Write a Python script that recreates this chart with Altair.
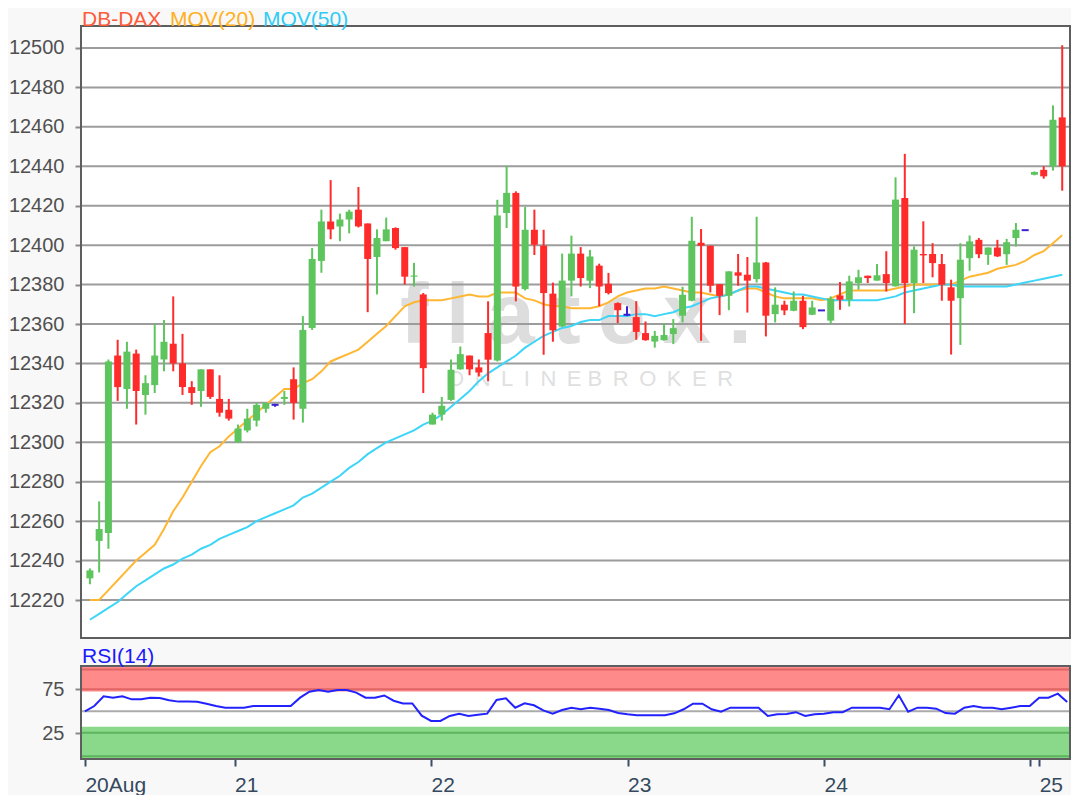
import altair as alt
import pandas as pd

# ---------------- data ----------------
idx = list(range(106))

opens = [12231, 12250, 12254, 12344, 12327, 12345, 12324, 12329, 12342, 12350,
         12340, 12328, 12326, 12337, 12322, 12316.5, 12300, 12306, 12311, 12317,
         12319, 12322, 12332, 12317, 12358, 12392, 12412, 12409.5, 12413, 12418,
         12411, 12394, 12402, 12408.7, 12399, 12384, 12375, 12309, 12314, 12321.5,
         12337, 12344, 12338, 12355.4, 12341.5, 12416.3, 12426.5, 12377.7, 12407.8, 12399.7,
         12375.4, 12358.8, 12382, 12395.7, 12382, 12389.6, 12380.4, 12370.6, 12364.7, 12363.5,
         12355.4, 12351.1, 12351.8, 12354.9, 12364.2, 12371.8, 12401.2, 12399.7, 12380.2, 12374.3,
         12386.2, 12385, 12382.8, 12391.2, 12365, 12369.8, 12366.7, 12371.8, 12364.7, 12366.9,
         12361.7, 12374.5, 12372.3, 12380.8, 12384.5, 12382, 12385.3, 12379.1, 12423.9, 12380.8,
         12395.5, 12395.5, 12390.4, 12378.6, 12373.1, 12393.4, 12402.7, 12395.1, 12398.8, 12395.4,
         12403.6, 12407.6, 12435.7, 12438.2, 12440, 12464.8]

highs = [12236, 12270, 12342, 12352, 12351, 12347, 12334, 12360, 12362, 12374,
         12355, 12331, 12337, 12337, 12334, 12322, 12309, 12317, 12320, 12320,
         12319.5, 12326, 12338, 12364, 12398.5, 12418, 12433, 12416, 12418, 12429.5,
         12411, 12408, 12414, 12409, 12399, 12391, 12375.7, 12315, 12323, 12342,
         12348.6, 12344, 12342, 12371.5, 12423, 12440.3, 12427.3, 12419.4, 12418, 12407.8,
         12381, 12395.7, 12404.8, 12399, 12397.6, 12390.6, 12385.9, 12371, 12369, 12371.6,
         12361.3, 12356.5, 12360.3, 12362.5, 12378.9, 12414.4, 12408.2, 12399.7, 12380.2, 12386.7,
         12395.5, 12394, 12414.4, 12391.5, 12378.6, 12371.8, 12376.5, 12374.3, 12371.8, 12366.9,
         12374, 12381.3, 12384.5, 12387.5, 12384.5, 12390.4, 12396.9, 12434.4, 12446.3, 12399.4,
         12412.1, 12401, 12395.5, 12382.5, 12401, 12404.9, 12403.6, 12398.8, 12402.7, 12403.2,
         12411.2, 12407.6, 12437.4, 12440, 12470.9, 12501.4]

lows = [12228, 12234, 12246, 12321, 12317, 12309, 12314, 12325, 12336, 12336,
        12324, 12319, 12318, 12322, 12313, 12311, 12300, 12305, 12308, 12315,
        12318, 12319, 12311.5, 12310, 12357, 12386, 12403, 12402, 12406, 12409,
        12366, 12375, 12402, 12397.7, 12380, 12379, 12325, 12309, 12311, 12321,
        12336.8, 12334, 12333.4, 12331, 12341, 12408.7, 12371.5, 12377, 12395, 12344.4,
        12351, 12358.5, 12374, 12379, 12378.2, 12369, 12375, 12360.5, 12364, 12352,
        12351.5, 12348, 12351.5, 12349.8, 12360.8, 12371.5, 12351.5, 12376, 12364.5, 12367,
        12379.4, 12365.8, 12381, 12353.7, 12360.8, 12364.5, 12366.5, 12357.4, 12364.5, 12366.9,
        12360, 12367.2, 12368.9, 12377.4, 12380.8, 12382, 12376.5, 12379, 12360, 12365.5,
        12380.8, 12383.7, 12371.8, 12344.5, 12349.4, 12387, 12393.4, 12390, 12394, 12390,
        12399.3, 12407.6, 12435.4, 12433.7, 12437.8, 12427.6]

closes = [12235, 12256, 12341, 12328, 12346, 12326, 12330, 12344, 12351, 12340,
          12328, 12325, 12337, 12323, 12315, 12312, 12307, 12312, 12319, 12320,
          12319, 12323, 12320, 12357, 12393, 12412, 12408, 12413, 12417, 12409.5,
          12393, 12403.6, 12408, 12398.5, 12384, 12384.6, 12337.6, 12314, 12318.5, 12336.8,
          12344.7, 12337, 12335.4, 12341.9, 12415, 12426.5, 12379, 12407.8, 12400.2, 12375.7,
          12356.8, 12382, 12395.7, 12383.3, 12394.3, 12379, 12375.7, 12367, 12364.7, 12356,
          12351.8, 12354, 12354.4, 12357.9, 12374.8, 12402.2, 12399.7, 12379.4, 12374.3, 12386.7,
          12384.5, 12382, 12391.2, 12364.2, 12369.8, 12366.9, 12371.8, 12358.4, 12368.4, 12366.9,
          12372.8, 12372.3, 12381.6, 12383.7, 12383.3, 12384.7, 12380.8, 12423.1, 12380.8, 12397.7,
          12394.8, 12390.9, 12379.9, 12371.8, 12392.6, 12401.9, 12395.4, 12398.8, 12394.3, 12401.5,
          12407.8, 12407.6, 12437.1, 12434.9, 12463.6, 12440]

ma20 = [12220, 12220, 12225, 12230, 12235, 12240, 12244, 12248, 12256, 12265,
        12272, 12280, 12288, 12295, 12298, 12303, 12307, 12311, 12315, 12319,
        12323, 12327, 12327, 12330, 12332, 12336, 12341, 12343, 12345, 12347,
        12351, 12355, 12359, 12364, 12369, 12371, 12372, 12372, 12372, 12373,
        12374, 12375, 12374, 12374, 12376, 12376, 12376, 12373, 12372, 12370,
        12369, 12369, 12368, 12368, 12368, 12369, 12371, 12374, 12376, 12377,
        12378, 12378, 12379, 12378, 12377, 12376, 12376, 12375, 12374, 12375,
        12377, 12378, 12378, 12376, 12374, 12373, 12373, 12373, 12373, 12372,
        12373, 12375, 12377, 12377, 12377, 12377, 12377, 12378, 12379, 12380,
        12380, 12380, 12380, 12380, 12382, 12384, 12385, 12386, 12388, 12389,
        12390, 12392, 12395, 12397, 12401, 12405]

ma50 = [12210, 12213, 12216, 12219, 12223, 12227, 12230, 12233, 12236, 12238,
        12241, 12243, 12246, 12248, 12251, 12253, 12255, 12257, 12260, 12262,
        12264, 12266, 12268, 12272, 12274, 12277, 12280, 12283, 12287, 12290,
        12294, 12297, 12300, 12302, 12304, 12306, 12309, 12311, 12314, 12318,
        12322, 12326, 12331, 12335, 12338, 12341, 12344, 12348, 12351, 12354,
        12356, 12358, 12359, 12361, 12362, 12362, 12364, 12364, 12364, 12365,
        12365, 12364, 12365, 12366, 12368, 12369, 12371, 12373, 12374, 12375,
        12377, 12379, 12379, 12378, 12377, 12376, 12375, 12375, 12374, 12373,
        12372, 12372, 12372, 12372, 12372, 12372, 12373, 12374, 12376, 12377,
        12378, 12379, 12380, 12380, 12379, 12379, 12379, 12379, 12379, 12379,
        12380, 12381, 12382, 12383, 12384, 12385]

rsi = [50, 56, 67, 65.5, 67, 63.6, 63.6, 65.5, 65, 62.5,
       61, 61, 60.9, 58.5, 56, 54, 54, 54.1, 56, 56,
       56, 56, 56, 65.5, 72.3, 74.2, 72.3, 74.2, 74.2, 71.2,
       65.5, 65.5, 68, 62, 59, 59, 45, 39, 39, 44.7,
       47.3, 44.7, 46, 47.3, 62.8, 64.7, 54, 59, 56.8, 51,
       47.3, 51.5, 54, 52.3, 54, 53, 51.5, 48, 46.6, 45.5,
       45.5, 45.5, 45.5, 47.7, 52.3, 58.6, 58.6, 52.3, 49.5, 54.1,
       54.1, 54.1, 54.1, 44.7, 46.6, 47, 49, 44.7, 46.6, 47.3,
       49, 49, 54.1, 54.1, 54.1, 54, 52.3, 68.2, 49.5, 54.1,
       54.1, 53, 48, 47.3, 54.1, 55.9, 54.1, 54, 52.3, 54.1,
       55.9, 55.9, 65.5, 65.5, 70, 60.6]

y_ticks = [12220, 12240, 12260, 12280, 12300, 12320, 12340, 12360, 12380,
           12400, 12420, 12440, 12460, 12480, 12500]
rsi_ticks = [25, 75]
tick_idx = [0, 16, 37, 58, 79, 101, 102]
tick_lbl = ["20Aug", "21", "22", "23", "24", "", "25"]

over_band = [72.5, 101.5]
under_band = [-4.2, 32.5]
over_lines = [97.5, 75]
under_lines = [25.5, -1]
mid_line = [50]

# ---------------- styling / layout ----------------
FONT = "Liberation Sans"
GREEN = "#5EC45E"
RED = "#FF2B2B"
DOJI = "#3A22D0"
ORANGE = "#FFB733"
CYAN = "#3DD5F8"
FRAME = "#5E5E5E"
W = 989          # plot width
HM = 630         # main view height (frame drawn from 17 to 629)
FT, FB = 17, 629
HR = 116         # RSI view height (frame drawn from 23 to 116)
RT = 23

df = pd.DataFrame({"i": idx, "o": opens, "h": highs, "l": lows, "c": closes,
                   "ma20": ma20, "ma50": ma50, "rsi": rsi})

xscale = alt.Scale(domain=[-0.42, 105.3], nice=False, zero=False)
yscale = alt.Scale(domain=[12200.22, 12519.78], nice=False, zero=False)
yaxis = alt.Axis(values=y_ticks, format="d", grid=False, domain=False,
                 tickSize=6, tickColor="#8A8A8A", tickWidth=2,
                 labelFontSize=20, labelColor="#505050", labelPadding=11,
                 labelFont=FONT, minExtent=73, maxExtent=73, title=None)
X = alt.X("i:Q", scale=xscale, axis=None)

one = pd.DataFrame({"k": [0]})

def label_layer(text, col, px, py, size=21, **kw):
    return alt.Chart(pd.DataFrame({"t": [text]})).mark_text(
        align="left", baseline="alphabetic", fontSize=size, font=FONT, color=col, **kw
    ).encode(x=alt.value(px), y=alt.value(py), text="t:N")

def panel_rect(top, bottom, **kw):
    return alt.Chart(one).mark_rect(**kw).encode(
        x=alt.value(0), x2=alt.value(W), y=alt.value(top), y2=alt.value(bottom))

base = alt.Chart(df).transform_calculate(
    dir="datum.c > datum.o ? 'up' : (datum.c < datum.o ? 'down' : 'flat')")
color = alt.Color("dir:N", scale=alt.Scale(domain=["up", "down", "flat"],
                                           range=[GREEN, RED, DOJI]), legend=None)

bg_main = panel_rect(FT, FB, fill="white")
grid = alt.Chart(pd.DataFrame({"v": y_ticks})).mark_rule(
    color="#9C9C9C", strokeWidth=2).encode(
    x=alt.value(0), x2=alt.value(W), y=alt.Y("v:Q", scale=yscale, axis=yaxis))

wm1 = label_layer("f\u2009l\u2009a\u2009t\u2009e\u2009x\u2009.", "#DDDDDD", 319, 334,
                  size=86, fontWeight="bold")
wm2 = label_layer("O\u2009 N\u2009 L\u2009 I\u2009 N\u2009 E    B\u2009 R\u2009 O\u2009 K\u2009 E\u2009 R",
                  "#E0E0E0", 366, 377, size=22)

ma20_line = base.mark_line(color=ORANGE, strokeWidth=2, clip=True).encode(
    x=X, y=alt.Y("ma20:Q", scale=yscale, axis=yaxis))
ma50_line = base.mark_line(color=CYAN, strokeWidth=2, clip=True).encode(
    x=X, y=alt.Y("ma50:Q", scale=yscale, axis=yaxis))
wicks = base.mark_rule(strokeWidth=2, clip=True).encode(
    x=X, y=alt.Y("l:Q", scale=yscale, axis=yaxis), y2="h:Q", color=color)
bodies = base.transform_filter("datum.dir != 'flat'").mark_bar(size=7, clip=True).encode(
    x=X, y=alt.Y("o:Q", scale=yscale, axis=yaxis), y2="c:Q", color=color)
dojis = base.transform_filter("datum.dir == 'flat'").transform_calculate(
    a="datum.i - 0.38", b="datum.i + 0.38").mark_rule(
    strokeWidth=2, color=DOJI, clip=True).encode(
    x=alt.X("a:Q", scale=xscale, axis=None), x2="b:Q",
    y=alt.Y("o:Q", scale=yscale, axis=yaxis))
frame_main = panel_rect(FT, FB, fill="transparent", stroke=FRAME, strokeWidth=2)

t1 = label_layer("DB-DAX", "#FF5A3A", 1, 16.8)
t2 = label_layer("MOV(20)", "#FFB020", 89, 16.8)
t3 = label_layer("MOV(50)", "#30CCF5", 182, 16.8)

main = alt.layer(bg_main, wm1, wm2, grid, ma20_line, ma50_line, wicks, bodies, dojis,
                 frame_main, t1, t2, t3).properties(width=W, height=HM)

# ---------------- RSI panel ----------------
rscale = alt.Scale(domain=[-4.2, 127.6], nice=False, zero=False)
raxis = alt.Axis(values=rsi_ticks, grid=False, domain=False, tickSize=6,
                 tickColor="#8A8A8A", tickWidth=2, labelFontSize=20,
                 labelColor="#505050", labelPadding=11, labelFont=FONT,
                 minExtent=73, maxExtent=73, title=None)
lbl_expr = " : ".join(f"datum.value == {v} ? '{t}'" for v, t in zip(tick_idx, tick_lbl)) + " : ''"
xaxis = alt.Axis(values=tick_idx, labelExpr=lbl_expr, grid=False, domain=False,
                 tickSize=7, tickColor="#3A4F66", tickWidth=2, labelAlign="left",
                 labelFontSize=21, labelColor="#34495E", labelFont=FONT,
                 labelPadding=8, title=None, labelOverlap=False)

def band(vals, col):
    return alt.Chart(pd.DataFrame({"y1": [vals[0]], "y2": [vals[1]]})).mark_rect(
        color=col).encode(x=alt.value(0), x2=alt.value(W),
                          y=alt.Y("y1:Q", scale=rscale, axis=raxis), y2="y2:Q")

def lines(vals, col):
    return alt.Chart(pd.DataFrame({"v": vals})).mark_rule(color=col, strokeWidth=2).encode(
        x=alt.value(0), x2=alt.value(W), y=alt.Y("v:Q", scale=rscale, axis=raxis))

bg_rsi = panel_rect(RT, HR, fill="white")
rsi_line = alt.Chart(df).mark_line(color="#2222FF", strokeWidth=2, clip=True).encode(
    x=alt.X("i:Q", scale=xscale, axis=xaxis),
    y=alt.Y("rsi:Q", scale=rscale, axis=raxis))
frame_rsi = panel_rect(RT, HR, fill="transparent", stroke=FRAME, strokeWidth=2)
rsi_title = label_layer("RSI(14)", "#1A1AFF", 1, 20)

rsi_chart = alt.layer(
    bg_rsi, band(over_band, "#FF8A8A"), band(under_band, "#8AD88A"),
    lines(over_lines, "#E06565"), lines(under_lines, "#5CB45C"),
    lines(mid_line, "#ABABAB"), rsi_line, frame_rsi, rsi_title
).properties(width=W, height=HR)

chart = alt.vconcat(main, rsi_chart, spacing=4).properties(
    padding={"left": 0, "top": 0, "right": 0, "bottom": 0},
    background="#F8F8F8"
).configure_view(strokeWidth=0, stroke="transparent")

chart.save("out.html", embed_options={"renderer": "svg", "actions": False})
